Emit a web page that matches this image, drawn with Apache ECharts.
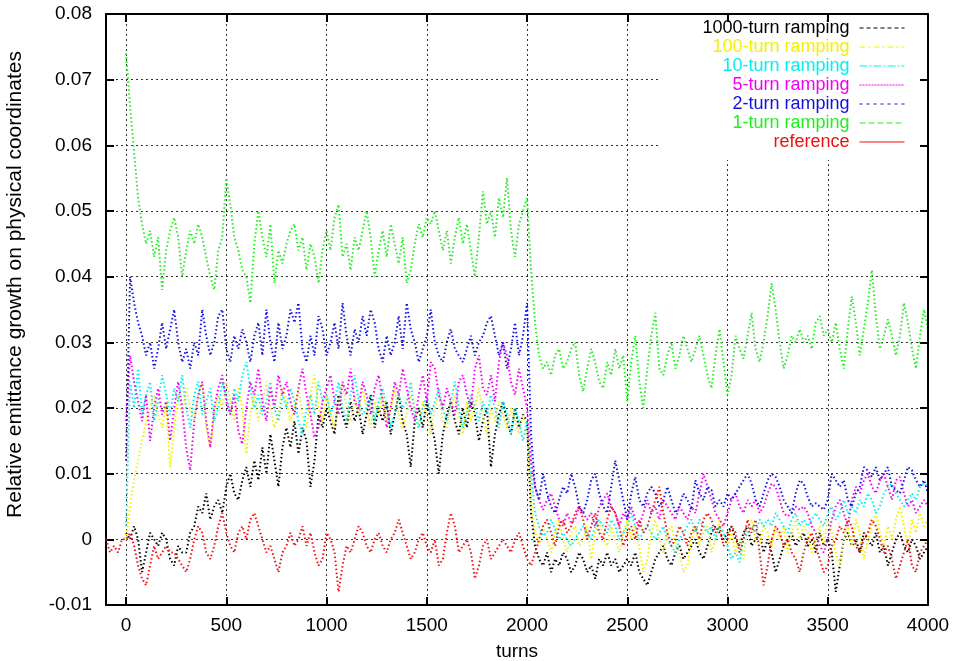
<!DOCTYPE html>
<html>
<head>
<meta charset="utf-8">
<script src="https://cdn.jsdelivr.net/npm/echarts@6/dist/echarts.min.js"></script>
<style>
html,body{margin:0;padding:0;background:#fff;}
#chart{width:953px;height:661px;}
</style>
</head>
<body>
<div id="chart"></div>
<script>
// sampling step (turns) of the values
const STEP = 20;
const START_RAMP = 0;      // ramping series start at turn 0
const START_REF = -100;    // reference starts at turn -100

const xTicks = [0, 500, 1000, 1500, 2000, 2500, 3000, 3500, 4000];

const seriesNames = ['1000-turn ramping','100-turn ramping','10-turn ramping','5-turn ramping','2-turn ramping','1-turn ramping','reference'];

const black1000 = [
.001,.000,.002,.000,-.005,-.002,.001,.000,-.001,.001,
.000,-.003,-.004,-.001,-.002,-.002,.001,.002,.005,.004,
.007,.003,.005,.006,.004,.008,.010,.007,.006,.009,
.011,.008,.012,.009,.014,.010,.016,.012,.008,.014,
.017,.014,.018,.013,.017,.015,.008,.012,.019,.017,
.020,.018,.016,.022,.019,.017,.021,.018,.020,.016,
.019,.022,.017,.020,.018,.021,.016,.019,.022,.018,
.016,.011,.018,.020,.017,.021,.018,.015,.010,.016,
.019,.021,.018,.016,.020,.017,.021,.019,.015,.018,
.020,.011,.016,.019,.021,.018,.016,.020,.017,.019,
.018,.004,-.001,-.003,-.004,-.002,-.005,-.003,-.004,-.002,
-.003,-.005,-.004,-.002,-.003,-.005,-.004,-.006,-.003,-.004,
-.002,-.004,-.003,-.005,-.004,-.003,-.004,-.002,-.005,-.006,
-.007,-.005,-.003,-.002,-.001,-.003,-.004,-.002,-.001,-.003,
-.002,-.001,.000,-.002,-.003,-.001,.001,.002,.001,.000,
.001,.002,.000,-.001,.001,.002,-.001,.000,.001,-.002,
.000,-.002,-.005,-.003,-.001,.000,.001,-.001,.000,.001,
-.001,.000,-.002,.001,-.001,.000,-.002,-.008,-.004,.000,
.001,-.001,.000,-.002,.001,.000,-.001,.001,-.002,-.001,
-.004,-.002,.000,.001,-.001,-.002,.000,-.001,-.003,-.002,
-.001];

const yellow100 = [
.000,.005,.009,.012,.015,.018,.020,.022,.019,.017,
.021,.011,.017,.022,.019,.023,.020,.018,.022,.024,
.017,.014,.019,.022,.020,.024,.021,.018,.023,.020,
.013,.019,.022,.018,.021,.024,.020,.017,.019,.023,
.021,.018,.020,.023,.019,.017,.022,.025,.020,.018,
.022,.019,.017,.021,.024,.020,.018,.022,.019,.023,
.020,.017,.021,.019,.022,.018,.020,.023,.019,.017,
.019,.022,.020,.017,.021,.019,.016,.020,.022,.018,
.017,.020,.022,.019,.016,.021,.018,.020,.023,.019,
.016,.020,.018,.021,.019,.017,.020,.018,.016,.019,
.017,.006,.001,-.001,.002,.000,-.002,.001,.003,.000,
-.002,.001,.002,-.001,.000,.002,-.003,.001,.003,.000,
-.001,.002,.000,-.002,.001,.003,.000,.002,-.001,-.005,
-.003,.001,.003,.000,-.002,.001,.002,-.001,-.002,-.005,
-.004,.000,.002,-.001,.001,.002,-.002,.000,.003,.001,
-.001,.001,-.002,.000,-.003,.002,.003,.000,-.001,.002,
.001,-.001,.002,.000,.002,-.002,.001,.003,.000,.002,
.001,-.002,.000,.002,-.001,.003,.001,-.002,-.004,.000,
.002,-.001,.003,.001,-.003,.000,.002,.004,.001,-.001,
.002,.000,.003,.005,.002,-.001,.003,.001,.004,.002,
.003];

const cyan10 = [
.002,.024,.020,.026,.019,.022,.024,.018,.021,.025,
.022,.019,.023,.021,.025,.020,.017,.022,.024,.019,
.021,.023,.018,.020,.024,.022,.019,.023,.021,.025,
.027,.023,.020,.022,.019,.021,.024,.020,.018,.022,
.020,.023,.021,.018,.016,.020,.022,.019,.024,.021,
.022,.019,.021,.024,.020,.018,.022,.025,.021,.019,
.020,.022,.018,.021,.023,.020,.017,.019,.022,.020,
.021,.024,.019,.017,.020,.022,.019,.021,.023,.020,
.018,.021,.024,.020,.017,.019,.022,.020,.018,.021,
.019,.022,.020,.017,.021,.019,.016,.020,.018,.015,
.018,.010,.004,.002,.0005,.001,.003,.0015,.000,.001,
.000,-.001,.000,.001,.002,.001,.000,.002,.003,.002,
.001,.003,.002,.000,.001,.002,.004,.002,.000,.001,
.002,.001,.000,.001,.002,.000,-.001,-.002,.000,.001,
.002,.003,.001,.003,.002,.001,.002,.000,.002,.001,
-.001,-.003,-.002,-.0035,.000,.001,.002,.001,.003,.002,
.003,.002,.004,.003,.002,.001,.003,.004,.002,.003,
.002,.003,.004,.003,.002,.004,.005,.003,.004,.006,
.004,.005,.004,.006,.005,.007,.006,.004,.005,.007,
.008,.0085,.007,.006,.005,.006,.007,.006,.008,.0085,
.008];

const magenta5 = [
.018,.028,.024,.021,.018,.022,.015,.020,.023,.019,
.021,.015,.020,.024,.020,.014,.0105,.018,.022,.024,
.018,.014,.020,.023,.025,.021,.019,.022,.0165,.0145,
.020,.024,.022,.026,.021,.018,.023,.020,.025,.022,
.024,.021,.019,.023,.026,.022,.019,.0155,.017,.021,
.023,.025,.021,.019,.024,.022,.026,.021,.020,.024,
.022,.019,.023,.025,.021,.017,.020,.024,.022,.026,
.023,.020,.018,.022,.025,.021,.027,.026,.022,.020,
.023,.021,.019,.024,.025,.022,.020,.026,.028,.023,
.022,.025,.021,.027,.030,.028,.024,.022,.026,.023,
.020,.012,.008,.006,.0045,.006,.007,.005,.003,.002,
.004,.0025,.003,.005,.004,.003,.004,.002,.005,.006,
.007,.005,.004,.002,.004,.003,.005,.003,.002,.004,
.006,.004,.005,.003,.006,.005,.004,.003,.005,.004,
.003,.005,.004,.007,.010,.008,.006,.004,.003,.002,
.004,.006,.007,.005,.004,.006,.005,.006,.004,.005,
.007,.0085,.008,.006,.004,.0035,.004,.005,.0045,.005,
.004,.002,.001,-.001,-.002,.000,.003,.005,.006,.004,
.002,.006,.008,.007,.009,.010,.008,.007,.009,.010,
.008,.006,.009,.0095,.007,.005,.006,.004,.005,.006,
.005];

const blue2 = [
.012,.040,.036,.033,.031,.028,.030,.026,.029,.033,
.029,.032,.035,.030,.027,.029,.026,.030,.028,.035,
.031,.028,.030,.034,.035,.029,.027,.031,.029,.032,
.030,.027,.031,.033,.028,.035,.030,.027,.033,.029,
.031,.035,.033,.036,.029,.027,.031,.028,.034,.032,
.028,.030,.033,.029,.036,.031,.028,.032,.030,.034,
.031,.035,.033,.029,.027,.031,.028,.030,.034,.029,
.036,.032,.030,.027,.029,.031,.035,.030,.028,.027,
.030,.032,.029,.028,.027,.029,.031,.028,.030,.031,
.033,.034,.031,.028,.030,.026,.029,.033,.028,.031,
.036,.016,.008,.006,.010,.007,.005,.004,.006,.008,
.007,.010,.008,.005,.004,.006,.009,.010,.007,.005,
.004,.008,.012,.009,.006,.003,.007,.0095,.006,.005,
.007,.008,.007,.005,.006,.008,.006,.004,.005,.007,
.006,.0045,.009,.007,.006,.008,.0075,.005,.006,.005,
.007,.006,.007,.008,.009,.010,.0085,.006,.005,.007,
.009,.010,.0095,.008,.006,.005,.004,.007,.009,.0085,
.0065,.005,.0055,.005,.0045,.006,.010,.009,.008,.009,
.006,.005,.007,.008,.011,.0105,.0095,.011,.009,.010,
.011,.008,.0075,.007,.009,.011,.0105,.009,.008,.009,
.007];

const green1 = [
.074,.066,.059,.052,.048,.045,.047,.043,.046,.038,
.044,.047,.049,.046,.040,.044,.047,.045,.048,.046,
.043,.040,.038,.044,.046,.055,.051,.046,.044,.041,
.040,.036,.045,.050,.046,.043,.048,.039,.044,.042,
.045,.047,.048,.044,.046,.041,.045,.043,.039,.044,
.047,.044,.049,.051,.043,.045,.041,.046,.044,.047,
.050,.046,.040,.044,.047,.043,.048,.045,.042,.046,
.039,.041,.045,.048,.046,.049,.048,.050,.047,.044,
.047,.042,.046,.049,.045,.048,.044,.040,.046,.053,
.048,.050,.046,.052,.049,.055,.047,.043,.048,.050,
.052,.041,.033,.028,.026,.027,.025,.028,.029,.026,
.027,.029,.030,.025,.0225,.026,.029,.027,.024,.023,
.027,.025,.029,.026,.028,.021,.027,.031,.024,.020,
.026,.031,.0345,.026,.025,.028,.030,.026,.028,.031,
.029,.027,.029,.031,.028,.025,.023,.028,.032,.027,
.022,.025,.031,.029,.0275,.031,.0345,.029,.027,.030,
.034,.039,.035,.030,.026,.028,.031,.030,.032,.030,
.031,.029,.033,.034,.031,.032,.030,.033,.029,.026,
.032,.037,.033,.028,.032,.036,.041,.034,.029,.031,
.0335,.031,.028,.031,.036,.033,.029,.026,.031,.035,
.032];

const redRef = [
.000,-.002,-.001,-.002,.000,
.000,.001,-.001,-.004,-.006,-.007,-.004,-.001,-.003,-.002,
-.001,-.002,-.002,-.003,-.004,-.005,-.003,.000,.002,.001,
-.002,-.003,-.001,.002,.004,.001,-.001,-.002,.001,.002,
.000,.003,.004,.002,.000,-.002,-.001,-.003,-.005,-.002,
-.001,.001,-.001,.000,.002,-.001,.001,-.002,-.004,-.003,
.001,.000,-.002,-.008,-.004,-.001,-.002,.000,.002,.001,
-.001,-.002,.000,.001,-.001,-.002,.000,.001,.003,.001,
-.001,-.003,-.002,.000,.001,-.001,-.002,.000,-.004,-.003,
.001,.004,.002,-.002,-.001,.000,-.002,-.006,-.004,-.001,
.000,-.003,-.002,-.001,.000,-.001,-.002,.000,.001,-.001,
-.003,-.004,-.002,.000,.002,.003,.001,-.001,.002,.003,
.001,.002,.004,.005,.003,.000,.002,.004,.001,.000,
.003,.005,.004,.002,-.001,.001,.002,.000,.003,.001,
.002,.004,.006,.008,.004,.001,-.001,.000,.002,.001,
-.001,.001,.002,.000,.003,.004,.003,.001,.002,-.001,
.000,.002,.001,-.002,.000,.003,.001,.003,-.002,-.007,
-.004,.000,.002,.001,-.001,.000,-.002,-.003,-.005,-.002,
.000,.001,-.001,-.003,-.005,-.004,-.001,.000,.002,.001,
.003,.002,-.001,-.002,.000,.001,.003,.002,.000,-.002,
-.001,-.003,-.006,-.004,-.002,.000,-.004,-.005,-.002,-.001,
.000];

const colors = ['#000000','#f2f200','#00f0f0','#f000f0','#1010e0','#22ee22','#ee1111'];
const legendLineTypes = [[4,3],[6,3,2,3],[8,2,2,2],[2,1],[3,4],[6,3],'solid'];

const dataSets = [
  [black1000, START_RAMP],
  [yellow100, START_RAMP],
  [cyan10, START_RAMP],
  [magenta5, START_RAMP],
  [blue2, START_RAMP],
  [green1, START_RAMP],
  [redRef, START_REF]
];

function toPairs(values, start) {
  return values.map((v, i) => [start + i * STEP, v]);
}

const FONT = '"Liberation Sans", Arial, Helvetica, sans-serif';
const chart = echarts.init(document.getElementById('chart'), null, {renderer: 'canvas'});

const series = dataSets.map((d, k) => ({
  name: seriesNames[k],
  type: 'line',
  data: toPairs(d[0], d[1]),
  symbol: 'none',
  showSymbol: false,
  animation: false,
  lineStyle: {color: colors[k], width: 2, type: [1.5, 2.5]},
  itemStyle: {color: colors[k]},
  emphasis: {disabled: true},
  z: 2
}));

const axisLineStyle = {show: true, onZero: false, lineStyle: {color: '#000', width: 2}};
const tickStyle = {show: true, inside: true, length: 8, lineStyle: {color: '#000', width: 2}};
const gridLineStyle = {show: true, lineStyle: {color: '#333', width: 1, type: [2, 3]}};

const option = {
  backgroundColor: '#ffffff',
  animation: false,
  grid: {left: 106, right: 25, top: 14, bottom: 56, containLabel: false, outerBoundsMode: 'none'},
  legend: {
    orient: 'vertical',
    right: 25,
    top: 14,
    align: 'right',
    backgroundColor: '#ffffff',
    padding: [5, 23, 9, 43],
    itemWidth: 45,
    itemHeight: 12,
    itemGap: 1,
    selectedMode: false,
    z: 5,
    formatter: n => n + ' ',
    textStyle: {fontFamily: FONT, fontSize: 18, lineHeight: 18},
    data: seriesNames.map((n, k) => ({
      name: n,
      textStyle: {color: colors[k]},
      itemStyle: {opacity: 0, color: 'transparent', borderWidth: 0},
      lineStyle: {color: colors[k], width: 1, type: legendLineTypes[k]}
    }))
  },
  xAxis: [
    {
      type: 'value', position: 'bottom', min: -100, max: 4000, z: 0,
      name: 'turns', nameLocation: 'middle', nameGap: 37,
      nameTextStyle: {fontFamily: FONT, fontSize: 19, color: '#000'},
      axisLine: axisLineStyle,
      axisTick: Object.assign({}, tickStyle, {customValues: xTicks}),
      axisLabel: {customValues: xTicks, fontFamily: FONT, fontSize: 19, color: '#000', margin: 11,
        formatter: v => String(Math.round(v))},
      splitLine: gridLineStyle
    },
    {
      type: 'value', position: 'top', min: -100, max: 4000, z: 10,
      axisLine: axisLineStyle,
      axisTick: Object.assign({}, tickStyle, {customValues: xTicks}),
      axisLabel: {show: false, customValues: xTicks},
      splitLine: {show: false}
    }
  ],
  yAxis: [
    {
      type: 'value', position: 'left', min: -0.01, max: 0.08, interval: 0.01, z: 0,
      name: 'Relative emittance growth on physical coordinates',
      nameLocation: 'middle', nameGap: 80, nameRotate: 90,
      nameTextStyle: {fontFamily: FONT, fontSize: 21, color: '#000', padding: [0, 0, 0, 50]},
      axisLine: axisLineStyle,
      axisTick: tickStyle,
      axisLabel: {
        fontFamily: FONT, fontSize: 19, color: '#000', margin: 14,
        formatter: v => Math.abs(v) < 1e-9 ? '0' : v.toFixed(2)
      },
      splitLine: gridLineStyle
    },
    {
      type: 'value', position: 'right', min: -0.01, max: 0.08, interval: 0.01, z: 10,
      axisLine: axisLineStyle,
      axisTick: tickStyle,
      axisLabel: {show: false},
      splitLine: {show: false}
    }
  ],
  series: series
};

chart.setOption(option);
</script>
</body>
</html>
